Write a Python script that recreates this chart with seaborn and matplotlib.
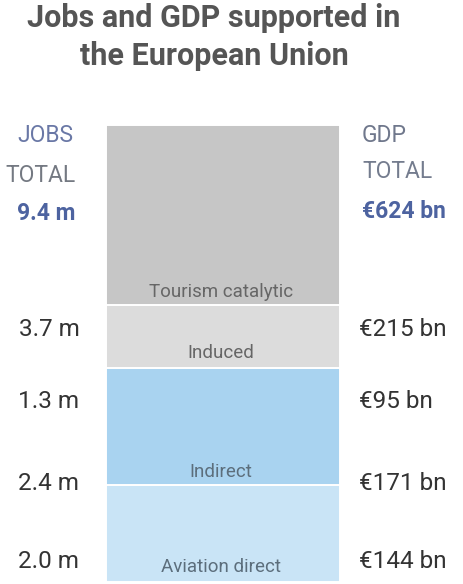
import matplotlib
matplotlib.use("Agg")
import matplotlib.pyplot as plt
import matplotlib.transforms as mtransforms
import seaborn as sns
import pandas as pd

# Segments, bottom to top
segments = ["Aviation direct", "Indirect", "Induced", "Tourism catalytic"]
jobs_m = [2.0, 2.4, 1.3, 3.7]
gdp_bn = [144, 171, 95, 215]
jobs_labels = ["2.0 m", "2.4 m", "1.3 m", "3.7 m"]
gdp_labels = ["€144 bn", "€171 bn", "€95 bn", "€215 bn"]
jobs_total = "9.4 m"
gdp_total = "€624 bn"
colors = ["#c9e4f6", "#a9d3f0", "#dcdcdc", "#c6c6c6"]
seg_text_colors = ["#5c6e7c", "#5c6e7c", "#666666", "#666666"]

W, H = 464, 584
sns.set_theme(style="white")
plt.rcParams["font.family"] = ["Roboto", "DejaVu Sans"]

fig = plt.figure(figsize=(W / 100, H / 100), dpi=100)
fig.patch.set_facecolor("white")

# Axes covers exactly the stacked column
bar_left, bar_right, bar_top, bar_bottom = 106, 340, 125, 582
ax = fig.add_axes([bar_left / W, (H - bar_bottom) / H,
                   (bar_right - bar_left) / W, (bar_bottom - bar_top) / H])

df = pd.DataFrame({"segment": segments, "jobs": jobs_m, "gdp": gdp_bn})
bottom = 0.0
for i, row in df.iterrows():
    sns.barplot(x=["EU"], y=[row["jobs"]], bottom=bottom, color=colors[i],
                width=1.0, edgecolor="white", linewidth=1.4, saturation=1,
                ax=ax)
    bottom += row["jobs"]

total = sum(jobs_m)
ax.set_xlim(-0.5, 0.5)
ax.set_ylim(0, total)
ax.axis("off")

# x in figure pixels, y in data units
tr = mtransforms.blended_transform_factory(fig.transFigure, ax.transData)
px = lambda x: x / W
ypx = lambda y: (bar_bottom - y) / (bar_bottom - bar_top) * total

# Segment names inside the column
seg_label_y = [567, 472, 353, 292]
for name, y, c in zip(segments, seg_label_y, seg_text_colors):
    ax.text(px(221), ypx(y), name, transform=tr, ha="center", va="center",
            fontsize=13.5, color=c)

# Value rows on both sides
row_y = [562, 483, 401, 330]
for jl, gl, y in zip(jobs_labels, gdp_labels, row_y):
    ax.text(px(49), ypx(y), jl, transform=tr, ha="center", va="center",
            fontsize=17.5, color="#333333", clip_on=False)
    ax.text(px(359), ypx(y), gl, transform=tr, ha="left", va="center",
            fontsize=17.5, color="#333333", clip_on=False)

# Totals
ax.text(px(45), ypx(136), "JOBS", transform=tr, ha="center", va="center",
        fontsize=16.5, color="#6a78a6", clip_on=False)
ax.text(px(41), ypx(175), "TOTAL", transform=tr, ha="center", va="center",
        fontsize=16.5, color="#747982", clip_on=False)
ax.text(px(46), ypx(213), jobs_total, transform=tr, ha="center", va="center",
        fontsize=16.5, color="#4d63a0", fontweight="bold", clip_on=False)

ax.text(px(362), ypx(136), "GDP", transform=tr, ha="left", va="center",
        fontsize=16.5, color="#70788c", clip_on=False)
ax.text(px(362), ypx(172), "TOTAL", transform=tr, ha="left", va="center",
        fontsize=16.5, color="#747c8e", clip_on=False)
ax.text(px(362), ypx(211), gdp_total, transform=tr, ha="left", va="center",
        fontsize=16.5, color="#4d63a0", fontweight="bold", clip_on=False)

# Title
fig.text(214 / W, 1 - 18 / H, "Jobs and GDP supported in", ha="center",
         va="center", fontsize=22, fontweight="bold", color="#555555")
fig.text(214 / W, 1 - 56 / H, "the European Union", ha="center",
         va="center", fontsize=22, fontweight="bold", color="#555555")

fig.savefig("out.png", dpi=100, facecolor="white")
